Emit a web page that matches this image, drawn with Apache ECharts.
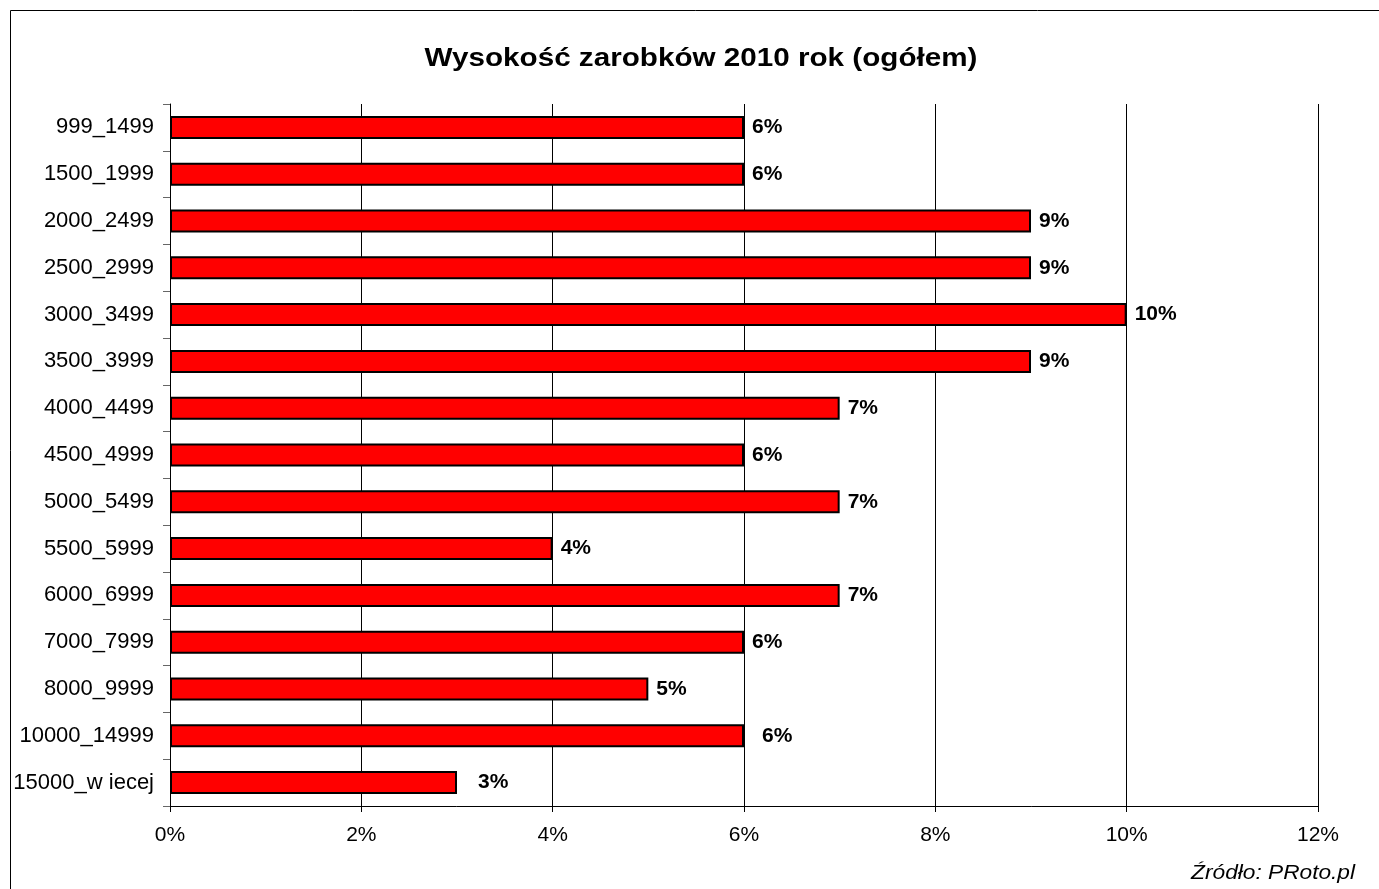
<!DOCTYPE html>
<html>
<head>
<meta charset="utf-8">
<script src="https://cdn.jsdelivr.net/npm/echarts@6/dist/echarts.min.js"></script>
<style>
html,body{margin:0;padding:0;background:#fff;}
#c{width:1379px;height:889px;}
</style>
</head>
<body>
<div id="c"></div>
<script>
const categories = ['999_1499','1500_1999','2000_2499','2500_2999','3000_3499','3500_3999','4000_4499','4500_4999','5000_5499','5500_5999','6000_6999','7000_7999','8000_9999','10000_14999','15000_w iecej'];
const values = [6, 6, 9, 9, 10, 9, 7, 6, 7, 4, 7, 6, 5, 6, 3];
const labelGaps = [8, 8, 8, 8, 8, 8, 8, 8, 8, 8, 8, 8, 8, 18, 21];
const xTicks = [0, 2, 4, 6, 8, 10, 12];
const titleText = 'Wysokość zarobków 2010 rok (ogółem)';
const sourceText = 'Źródło: PRoto.pl';

const chart = echarts.init(document.getElementById('c'), null, {renderer:'canvas'});
const font = 'Arial, "Liberation Sans", sans-serif';
chart.setOption({
  animation: false,
  backgroundColor: '#fff',
  graphic: [
    {type: 'rect', shape: {x: 10.5, y: 10.5, width: 1400, height: 1000}, style: {fill: null, stroke: '#000', lineWidth: 1}, silent: true},
    {type: 'text', x: 701, y: 59, scaleX: 1.14, style: {text: titleText, x: 0, y: 0, textAlign: 'center', textVerticalAlign: 'middle', font: 'bold 26px ' + font, fill: '#000'}},
    {type: 'text', x: 1355, y: 873, scaleX: 1.08, style: {text: sourceText, x: 0, y: 0, textAlign: 'right', textVerticalAlign: 'middle', font: 'italic 21px ' + font, fill: '#000'}}
  ],
  grid: {left: 170, right: 61, top: 104, bottom: 83, containLabel: false},
  xAxis: {
    type: 'value', min: xTicks[0], max: xTicks[xTicks.length-1], interval: 2,
    axisLine: {show: true, lineStyle: {color: '#000', width: 1}},
    axisTick: {show: true, length: 6, lineStyle: {color: '#000'}},
    splitLine: {show: true, lineStyle: {color: '#000', width: 1}},
    axisLabel: {formatter: v => v + '%', fontFamily: font, fontSize: 21, color: '#000', margin: 19}
  },
  yAxis: {
    type: 'category', data: categories, inverse: true,
    axisLine: {show: true, lineStyle: {color: '#000', width: 1}},
    axisTick: {show: true, length: 7, inside: false, alignWithLabel: false, lineStyle: {color: '#666'}},
    axisLabel: {fontFamily: font, fontSize: 22, color: '#000', margin: 16}
  },
  series: [{
    type: 'bar',
    data: values.map((v, i) => ({value: v, label: {distance: labelGaps[i]}})),
    barWidth: 23,
    itemStyle: {color: '#ff0000', borderColor: '#000', borderWidth: 2},
    label: {show: true, position: 'right', formatter: p => Math.round(p.value) + '%', fontFamily: font, fontSize: 21, fontWeight: 'bold', color: '#000'}
  }]
});
</script>
</body>
</html>
